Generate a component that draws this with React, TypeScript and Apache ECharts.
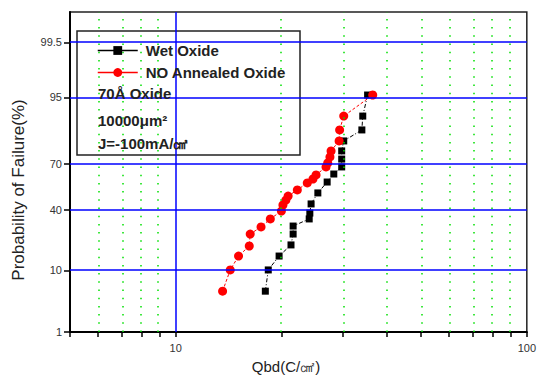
import React, { useEffect, useRef } from "react";
import * as echarts from "echarts";

// ---- data ----
const wetQbd = [18.0, 18.35, 19.7, 21.3, 21.6, 21.6, 24.0, 24.1, 24.3, 25.4, 27.0, 28.2, 29.7, 29.7, 29.7, 30.1, 33.9, 34.1, 35.2];
const wetFail = [5.1, 10.1, 14.9, 19.7, 25.2, 29.7, 34.0, 37.7, 43.7, 51.1, 58.4, 63.6, 68.0, 72.6, 77.0, 81.8, 86.3, 90.8, 95.4];

const noQbd = [13.6, 14.3, 15.1, 16.2, 16.3, 17.5, 18.6, 20.0, 20.2, 20.6, 20.9, 22.2, 23.7, 24.6, 25.1, 26.8, 27.1, 27.5, 27.7, 29.2, 29.3, 30.1, 36.4];
const noFail = [5.1, 10.1, 14.9, 19.2, 25.2, 29.2, 34.0, 39.0, 43.0, 46.3, 49.0, 53.1, 57.8, 60.4, 63.0, 68.0, 70.4, 73.8, 77.0, 81.8, 86.3, 90.8, 95.4];

const yTickPercents = [1, 10, 40, 70, 95, 99.5];
const yTickLabels = ["1", "10", "40", "70", "95", "99.5"];
const yMajorGrid = [10, 40, 70, 95, 99.5];
const yRange = [1, 99.9];

const xRange = [5, 100];
const xLabelValues = [10, 100];
const xTickValues = [5, 6, 7, 8, 9, 10, 20, 30, 40, 50, 60, 70, 80, 90, 100];
const xMajorGrid = [10];
const xMinorGrid = [6, 7, 8, 9, 20, 30, 40, 50, 60, 70, 80, 90];

// inverse normal CDF (normal-probability axis transform)
function probit(p: number): number {
  const a = [-3.969683028665376e1, 2.209460984245205e2, -2.759285104469687e2, 1.38357751867269e2, -3.066479806614716e1, 2.506628277459239];
  const b = [-5.447609879822406e1, 1.615858368580409e2, -1.556989798598866e2, 6.680131188771972e1, -1.328068155288572e1];
  const c = [-7.784894002430293e-3, -3.223964580411365e-1, -2.400758277161838, -2.549732539343734, 4.374664141464968, 2.938163982698783];
  const d = [7.784695709041462e-3, 3.224671290700398e-1, 2.445134137142996, 3.754408661907416];
  const pl = 0.02425;
  const ph = 1 - pl;
  let q: number, r: number;
  if (p < pl) {
    q = Math.sqrt(-2 * Math.log(p));
    return (((((c[0] * q + c[1]) * q + c[2]) * q + c[3]) * q + c[4]) * q + c[5]) / ((((d[0] * q + d[1]) * q + d[2]) * q + d[3]) * q + 1);
  }
  if (p <= ph) {
    q = p - 0.5;
    r = q * q;
    return ((((((a[0] * r + a[1]) * r + a[2]) * r + a[3]) * r + a[4]) * r + a[5]) * q) / (((((b[0] * r + b[1]) * r + b[2]) * r + b[3]) * r + b[4]) * r + 1);
  }
  q = Math.sqrt(-2 * Math.log(1 - p));
  return -(((((c[0] * q + c[1]) * q + c[2]) * q + c[3]) * q + c[4]) * q + c[5]) / ((((d[0] * q + d[1]) * q + d[2]) * q + d[3]) * q + 1);
}
const py = (pct: number) => probit(pct / 100);
const lx = (v: number) => Math.log10(v);

const FONT = '"Liberation Sans", Arial, sans-serif';

export default function App() {
  const ref = useRef<HTMLDivElement>(null);
  useEffect(() => {
    if (!ref.current) return;
    const chart = echarts.init(ref.current, null, { renderer: "svg" });
    const yTickVals = yTickPercents.map(py);
    const option: any = {
      animation: false,
      grid: {
        left: 70,
        right: 10,
        top: 12,
        bottom: 49,
        show: true,
        borderColor: "#222",
        borderWidth: 1.5,
        backgroundColor: "transparent",
      },
      xAxis: {
        type: "value",
        min: lx(xRange[0]),
        max: lx(xRange[1]),
        axisLine: { onZero: false, lineStyle: { color: "#000", width: 2 } },
        axisTick: {
          show: true,
          inside: false,
          length: 5,
          customValues: xTickValues.map(lx),
          lineStyle: { color: "#000", width: 1.5 },
        },
        axisLabel: {
          customValues: xLabelValues.map(lx),
          formatter: (v: number) => String(Math.round(Math.pow(10, v))),
          fontSize: 11,
          fontFamily: FONT,
          color: "#333",
          margin: 10,
        },
        splitLine: { show: false },
      },
      yAxis: {
        type: "value",
        min: py(yRange[0]),
        max: py(yRange[1]),
        axisLine: { onZero: false, lineStyle: { color: "#000", width: 2 } },
        axisTick: {
          show: true,
          inside: false,
          length: 6,
          customValues: yTickVals,
          lineStyle: { color: "#000", width: 1.5 },
        },
        axisLabel: {
          customValues: yTickVals,
          formatter: (v: number) => {
            let best = 0;
            let bd = Infinity;
            yTickVals.forEach((t, i) => {
              const dd = Math.abs(t - v);
              if (dd < bd) {
                bd = dd;
                best = i;
              }
            });
            return yTickLabels[best];
          },
          fontSize: 11,
          fontFamily: FONT,
          color: "#333",
          margin: 8,
        },
        splitLine: { show: false },
      },
      legend: {
        orient: "vertical",
        left: 77,
        top: 31,
        padding: [12, 0, 0, 20],
        itemWidth: 40,
        itemHeight: 11,
        itemGap: 7,
        z: 10,
        data: ["Wet Oxide", "NO Annealed Oxide"],
        lineStyle: { type: "solid", width: 1.5 },
        textStyle: { fontSize: 15, fontWeight: "bold", fontFamily: FONT, color: "#222", padding: [0, 0, 0, 3] },
      },
      graphic: [
        {
          type: "rect",
          z: 5,
          shape: { x: 77, y: 31, width: 223, height: 124 },
          style: { fill: "#fff", stroke: "#222", lineWidth: 1.5 },
        },
        {
          type: "text",
          z: 11,
          x: 98,
          y: 93,
          style: { text: "70Å Oxide", font: `bold 15px ${FONT}`, fill: "#222", verticalAlign: "middle", align: "left" },
        },
        {
          type: "text",
          z: 11,
          x: 98,
          y: 120,
          style: { text: "10000μm²", font: `bold 15px ${FONT}`, fill: "#222", verticalAlign: "middle", align: "left" },
        },
        {
          type: "text",
          z: 11,
          x: 98,
          y: 143,
          style: { text: "J=-100mA/㎠", font: `bold 15px ${FONT}`, fill: "#222", verticalAlign: "middle", align: "left" },
        },
        {
          type: "text",
          z: 11,
          x: 18,
          y: 190,
          rotation: Math.PI / 2,
          style: { text: "Probability of Failure(%)", font: `17px ${FONT}`, fill: "#222", verticalAlign: "middle", align: "center" },
        },
        {
          type: "text",
          z: 11,
          x: 286,
          y: 366,
          style: { text: "Qbd(C/㎠)", font: `15px ${FONT}`, fill: "#222", verticalAlign: "middle", align: "center" },
        },
      ],
      series: [
        {
          type: "line",
          data: [],
          z: 1,
          silent: true,
          markLine: {
            silent: true,
            animation: false,
            symbol: ["none", "none"],
            label: { show: false },
            lineStyle: { color: "#00e000", width: 1.5, type: [1.5, 6.7] },
            data: xMinorGrid.map((v) => ({ xAxis: lx(v) })),
          },
        },
        {
          type: "line",
          data: [],
          z: 1,
          silent: true,
          markLine: {
            silent: true,
            animation: false,
            symbol: ["none", "none"],
            label: { show: false },
            lineStyle: { color: "#0000ff", width: 1.5, type: "solid" },
            data: [
              ...xMajorGrid.map((v) => ({ xAxis: lx(v) })),
              ...yMajorGrid.map((v) => ({ yAxis: py(v) })),
            ],
          },
        },
        {
          name: "Wet Oxide",
          type: "line",
          z: 4,
          data: wetQbd.map((q, i) => [lx(q), py(wetFail[i])]),
          symbol: "rect",
          symbolSize: 7,
          itemStyle: { color: "#000" },
          lineStyle: { color: "#000", width: 1, type: [4, 2, 1, 2] },
        },
        {
          name: "NO Annealed Oxide",
          type: "line",
          z: 4,
          data: noQbd.map((q, i) => [lx(q), py(noFail[i])]),
          symbol: "circle",
          symbolSize: 9,
          itemStyle: { color: "#ff0000" },
          lineStyle: { color: "#ff0000", width: 1, type: [3, 2] },
        },
      ],
    };
    chart.setOption(option);
    return () => chart.dispose();
  }, []);
  return (
    <div
      ref={ref}
      style={{ position: "fixed", left: 0, top: 0, width: 539, height: 381, background: "#fff" }}
    />
  );
}
